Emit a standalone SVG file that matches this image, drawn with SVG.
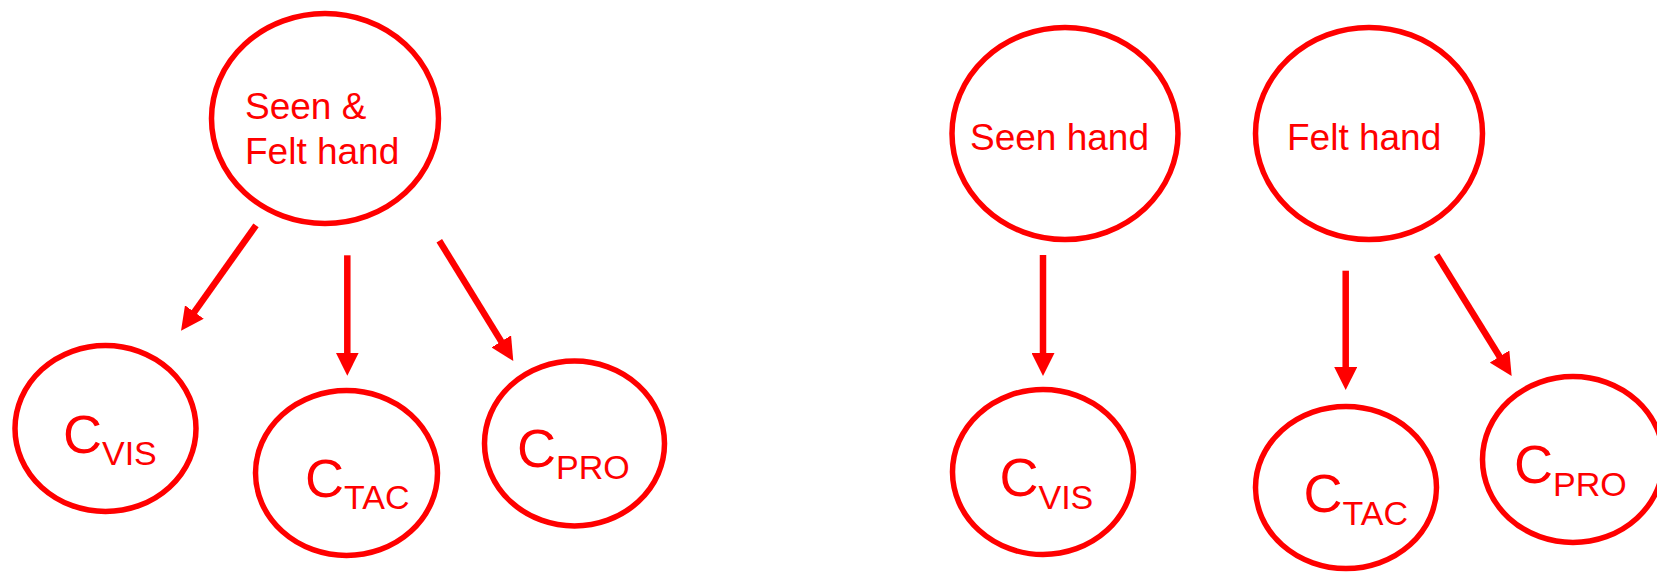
<svg xmlns="http://www.w3.org/2000/svg" width="1657" height="572" viewBox="0 0 1657 572">
<style>
.node{fill:#fff;stroke:#ff0000;stroke-width:5.5}
.lbl{font-family:"Liberation Sans",Arial,sans-serif;font-size:37px;fill:#ff0000}
.c{font-family:"Liberation Sans",Arial,sans-serif;font-size:54px;fill:#ff0000}
.sub{font-size:34px}
.edge{stroke:#ff0000;stroke-width:6.5;fill:none;stroke-linecap:butt;marker-end:url(#ah)}
</style>
<defs>
<marker id="ah" markerUnits="userSpaceOnUse" viewBox="0 0 23 23" markerWidth="23" markerHeight="23" refX="2" refY="11.5" orient="auto">
<path d="M0,0 L23,11.5 L0,23 Z" fill="#ff0000"/>
</marker>
</defs>
<rect width="1657" height="572" fill="#fff"/>
<g id="n_seenfelt">
<ellipse class="node" cx="325" cy="118.5" rx="113.5" ry="105"/>
<text class="lbl" x="245" y="119">Seen &amp;</text>
<text class="lbl" x="245" y="164">Felt hand</text>
</g>
<g id="n_cvis_l">
<ellipse class="node" cx="105.5" cy="428.5" rx="90.5" ry="83"/>
<text class="c" x="63" y="453">C<tspan class="sub" dy="12">VIS</tspan></text>
</g>
<g id="n_ctac_l">
<ellipse class="node" cx="346.5" cy="473" rx="91" ry="82.5"/>
<text class="c" x="305" y="497">C<tspan class="sub" dy="12">TAC</tspan></text>
</g>
<g id="n_cpro_l">
<ellipse class="node" cx="574.5" cy="443.5" rx="90" ry="82.5"/>
<text class="c" x="517" y="467">C<tspan class="sub" dy="12">PRO</tspan></text>
</g>
<g id="n_seen">
<ellipse class="node" cx="1065" cy="133.5" rx="113" ry="106"/>
<text class="lbl" x="970" y="150">Seen hand</text>
</g>
<g id="n_felt">
<ellipse class="node" cx="1369" cy="133.5" rx="113.5" ry="106"/>
<text class="lbl" x="1287" y="150">Felt hand</text>
</g>
<g id="n_cvis_r">
<ellipse class="node" cx="1043" cy="472" rx="90.5" ry="82.5"/>
<text class="c" x="999.5" y="496">C<tspan class="sub" dy="13">VIS</tspan></text>
</g>
<g id="n_ctac_r">
<ellipse class="node" cx="1346" cy="487.5" rx="90.5" ry="81"/>
<text class="c" x="1303.5" y="512">C<tspan class="sub" dy="13">TAC</tspan></text>
</g>
<g id="n_cpro_r">
<ellipse class="node" cx="1573" cy="459.5" rx="90.5" ry="83"/>
<text class="c" x="1514" y="483">C<tspan class="sub" dy="13">PRO</tspan></text>
</g>
<g id="connectors">
<line class="edge" x1="256" y1="225.3" x2="193.2" y2="313.6"/>
<line class="edge" x1="347.3" y1="255.3" x2="347.3" y2="354.7"/>
<line class="edge" x1="439.3" y1="240.7" x2="502.3" y2="343.1"/>
<line class="edge" x1="1043" y1="255" x2="1043" y2="355"/>
<line class="edge" x1="1345.7" y1="270.7" x2="1345.7" y2="369"/>
<line class="edge" x1="1436.7" y1="255" x2="1500.6" y2="358.2"/>
</g>
</svg>
